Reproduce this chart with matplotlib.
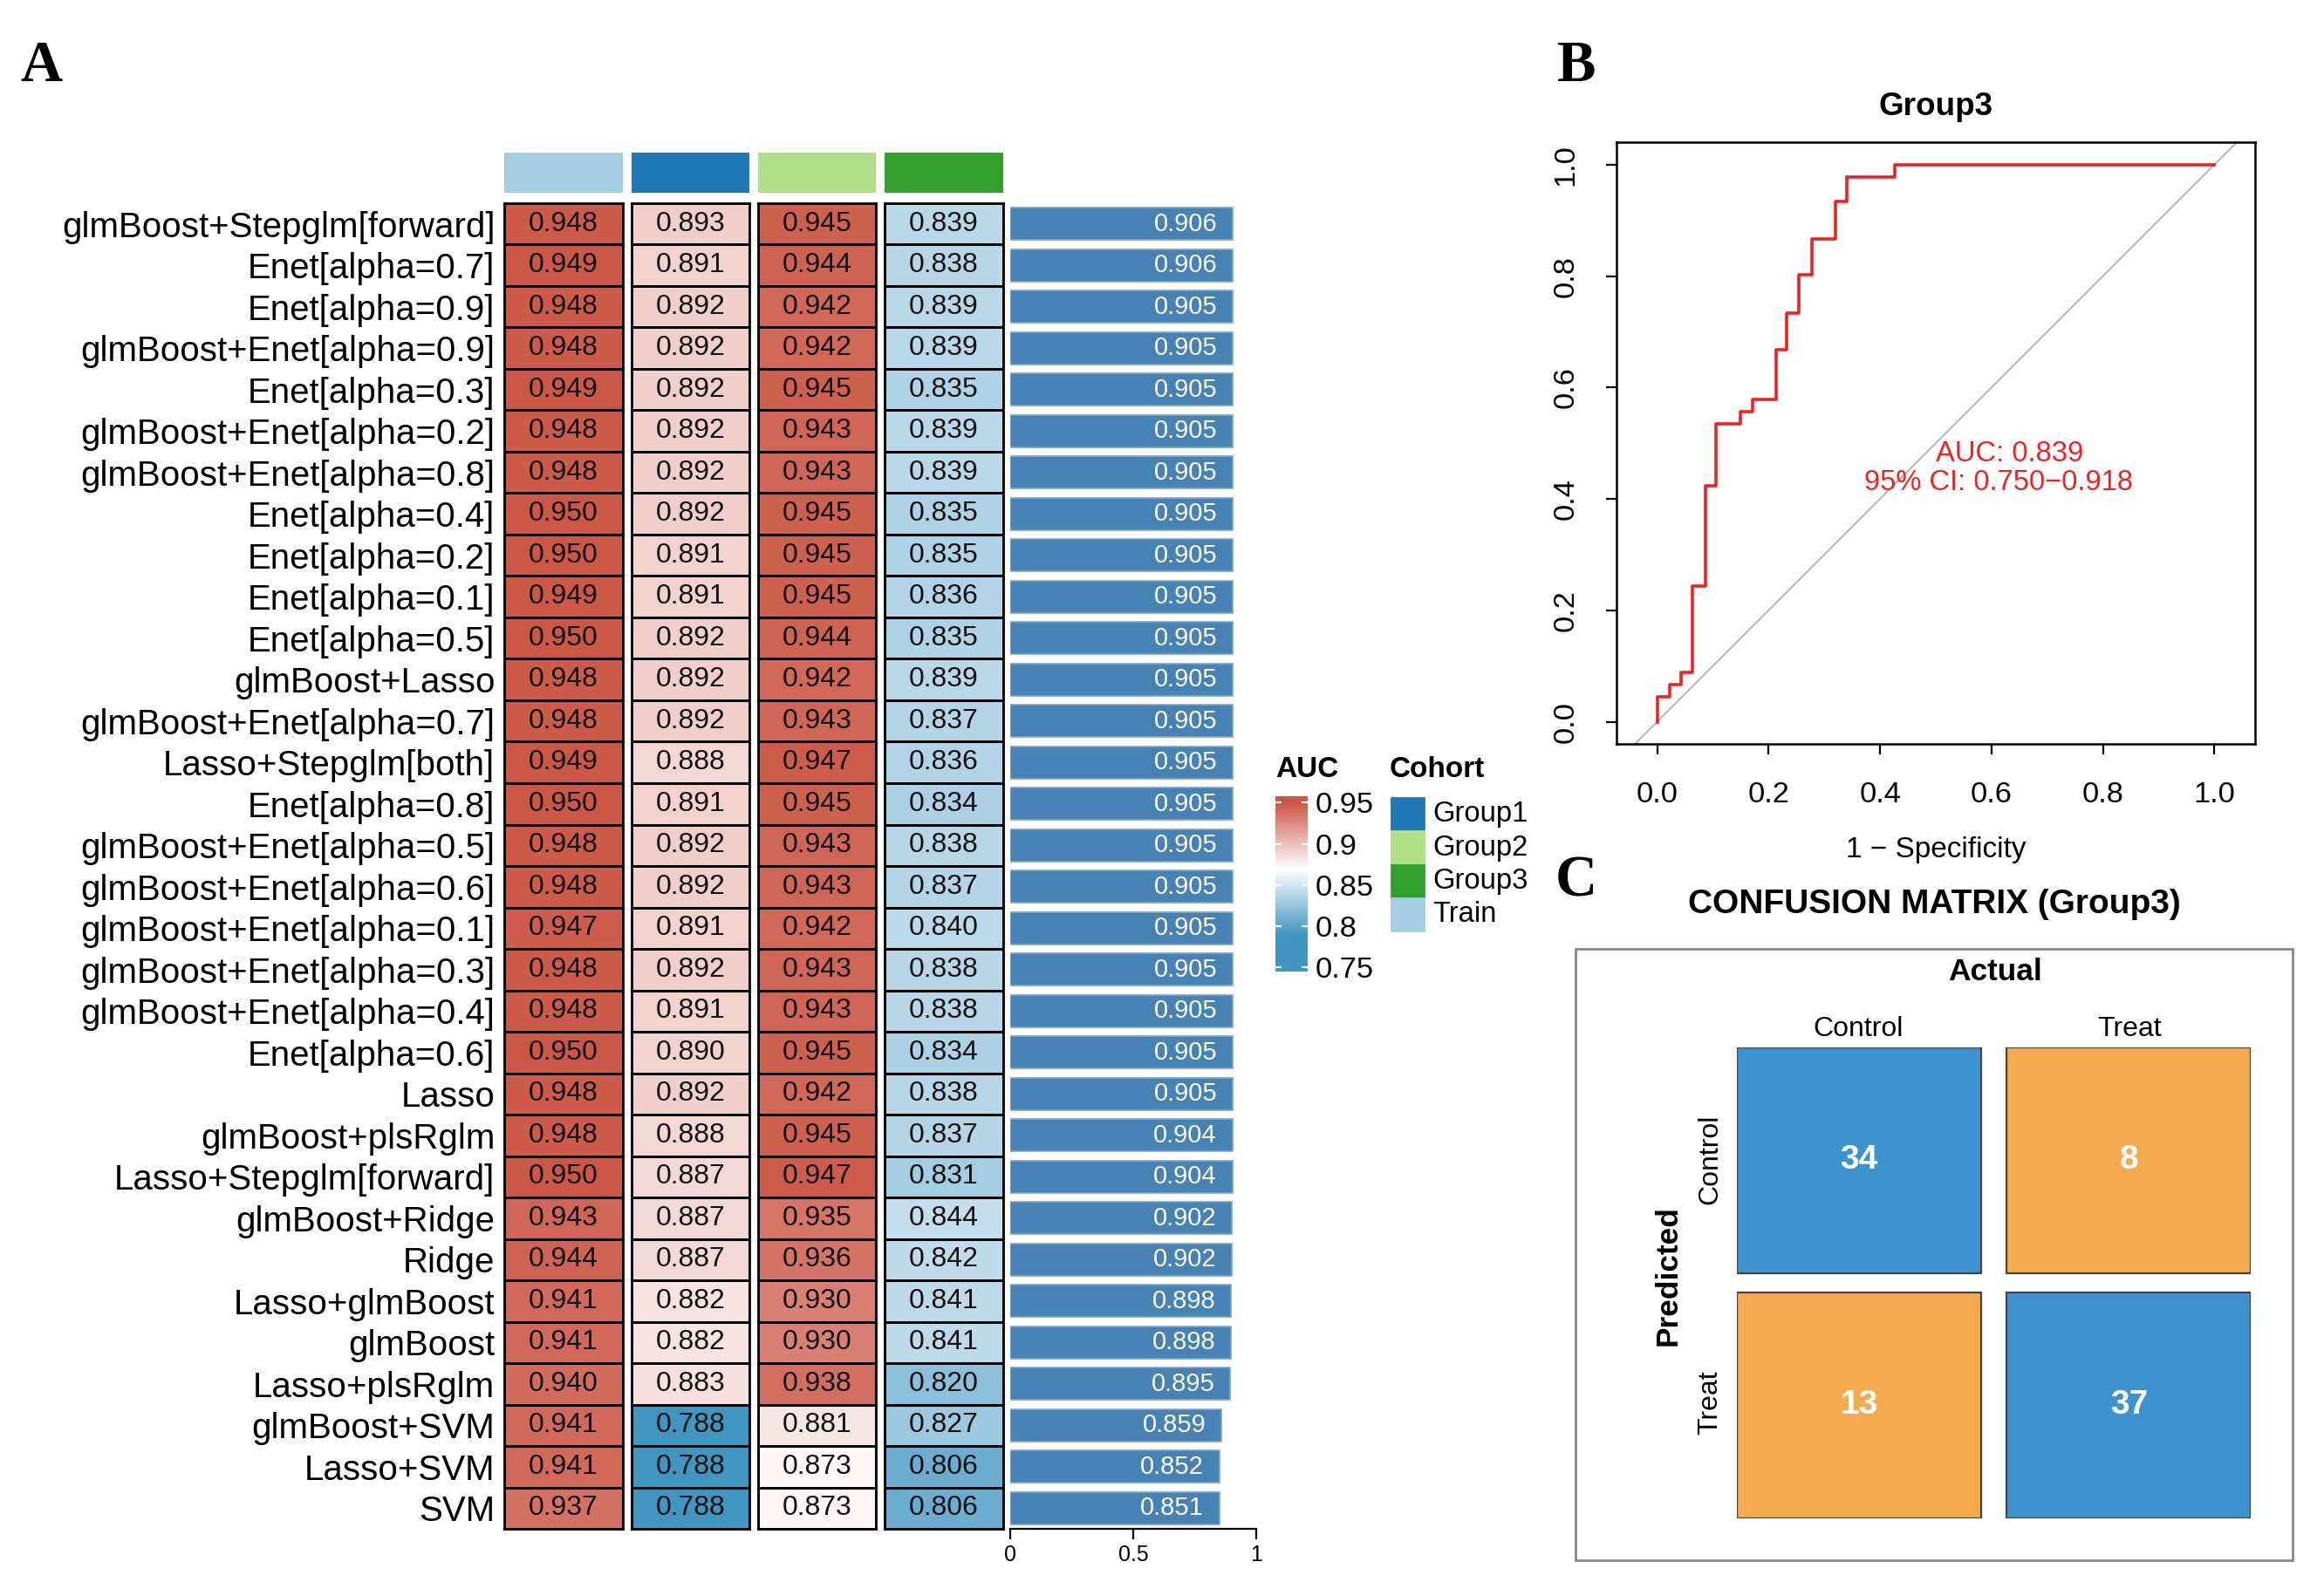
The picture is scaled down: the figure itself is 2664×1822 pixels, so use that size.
import numpy as np
import matplotlib
matplotlib.use("Agg")
import matplotlib.pyplot as plt
from matplotlib.colors import LinearSegmentedColormap, Normalize
from matplotlib.patches import Rectangle

plt.rcParams['font.family'] = ['Liberation Sans', 'DejaVu Sans']

# ---- data (panel A) ----
models = ["glmBoost+Stepglm[forward]", "Enet[alpha=0.7]", "Enet[alpha=0.9]",
          "glmBoost+Enet[alpha=0.9]", "Enet[alpha=0.3]", "glmBoost+Enet[alpha=0.2]",
          "glmBoost+Enet[alpha=0.8]", "Enet[alpha=0.4]", "Enet[alpha=0.2]",
          "Enet[alpha=0.1]", "Enet[alpha=0.5]", "glmBoost+Lasso",
          "glmBoost+Enet[alpha=0.7]", "Lasso+Stepglm[both]", "Enet[alpha=0.8]",
          "glmBoost+Enet[alpha=0.5]", "glmBoost+Enet[alpha=0.6]", "glmBoost+Enet[alpha=0.1]",
          "glmBoost+Enet[alpha=0.3]", "glmBoost+Enet[alpha=0.4]", "Enet[alpha=0.6]",
          "Lasso", "glmBoost+plsRglm", "Lasso+Stepglm[forward]", "glmBoost+Ridge",
          "Ridge", "Lasso+glmBoost", "glmBoost", "Lasso+plsRglm", "glmBoost+SVM",
          "Lasso+SVM", "SVM"]
train_auc = [0.948, 0.949, 0.948, 0.948, 0.949, 0.948, 0.948, 0.950, 0.950, 0.949, 0.950,
             0.948, 0.948, 0.949, 0.950, 0.948, 0.948, 0.947, 0.948, 0.948, 0.950, 0.948,
             0.948, 0.950, 0.943, 0.944, 0.941, 0.941, 0.940, 0.941, 0.941, 0.937]
group1_auc = [0.893, 0.891, 0.892, 0.892, 0.892, 0.892, 0.892, 0.892, 0.891, 0.891, 0.892,
              0.892, 0.892, 0.888, 0.891, 0.892, 0.892, 0.891, 0.892, 0.891, 0.890, 0.892,
              0.888, 0.887, 0.887, 0.887, 0.882, 0.882, 0.883, 0.788, 0.788, 0.788]
group2_auc = [0.945, 0.944, 0.942, 0.942, 0.945, 0.943, 0.943, 0.945, 0.945, 0.945, 0.944,
              0.942, 0.943, 0.947, 0.945, 0.943, 0.943, 0.942, 0.943, 0.943, 0.945, 0.942,
              0.945, 0.947, 0.935, 0.936, 0.930, 0.930, 0.938, 0.881, 0.873, 0.873]
group3_auc = [0.839, 0.838, 0.839, 0.839, 0.835, 0.839, 0.839, 0.835, 0.835, 0.836, 0.835,
              0.839, 0.837, 0.836, 0.834, 0.838, 0.837, 0.840, 0.838, 0.838, 0.834, 0.838,
              0.837, 0.831, 0.844, 0.842, 0.841, 0.841, 0.820, 0.827, 0.806, 0.806]
mean_auc = [0.906, 0.906, 0.905, 0.905, 0.905, 0.905, 0.905, 0.905, 0.905, 0.905, 0.905,
            0.905, 0.905, 0.905, 0.905, 0.905, 0.905, 0.905, 0.905, 0.905, 0.905, 0.905,
            0.904, 0.904, 0.902, 0.902, 0.898, 0.898, 0.895, 0.859, 0.852, 0.851]
cohorts = ["Train", "Group1", "Group2", "Group3"]
cohort_cols = {"Train": "#A6CEE3", "Group1": "#1F78B4", "Group2": "#B2DF8A", "Group3": "#33A02C"}
columns = [train_auc, group1_auc, group2_auc, group3_auc]

# ---- data (panel B: ROC Group3) ----
roc_fpr = [0, 0, 0.022, 0.043, 0.064, 0.086, 0.106, 0.150, 0.172, 0.213, 0.233, 0.255,
           0.277, 0.320, 0.340, 0.426, 1.0]
roc_tpr = [0, 0.044, 0.066, 0.089, 0.244, 0.423, 0.534, 0.557, 0.579, 0.668, 0.734, 0.802,
           0.867, 0.934, 0.978, 1.0, 1.0]
auc_txt = "AUC: 0.839"
ci_txt = "95% CI: 0.750\u22120.918"

# ---- data (panel C: confusion matrix) ----
cm_labels = ["Control", "Treat"]
cm_counts = [[34, 8], [13, 37]]

W, H = 2664, 1822
S = 0.9955  # layout measured on a slightly enlarged view
fig = plt.figure(figsize=(W / 200, H / 200), dpi=200)


def frac(x0, y0, x1, y1):
    return [S * x0 / W, 1 - S * y1 / H, S * (x1 - x0) / W, S * (y1 - y0) / H]


def pt(x, y):
    return S * x / W, 1 - S * y / H


serif = ['Liberation Serif', 'DejaVu Serif']

# ================= panel A =================
vals_all = np.array(columns)
cmap = LinearSegmentedColormap.from_list("auc", ["#4195C1", "#FFFFFF", "#CB5746"])
norm = Normalize(vmin=vals_all.min(), vmax=vals_all.max(), clip=True)

n = len(models)
row_top, row_bot = 234, 1761
col_w, col_gap, col_left0 = 136, 10, 581

for j, vals in enumerate(columns):
    x0 = col_left0 + j * (col_w + col_gap)
    ax = fig.add_axes(frac(x0, row_top, x0 + col_w, row_bot))
    ax.pcolormesh(np.array(vals).reshape(-1, 1), cmap=cmap, norm=norm,
                  edgecolors="black", linewidth=1.0)
    ax.set_xlim(0, 1)
    ax.set_ylim(n, 0)
    for i, v in enumerate(vals):
        ax.text(0.5, i + 0.5, "%.3f" % v, ha="center", va="center", fontsize=11.5, color="#111111")
    ax.set_xticks([])
    if j == 0:
        ax.set_yticks(np.arange(n) + 0.5)
        ax.set_yticklabels(models, fontsize=14.5)
        ax.tick_params(axis="y", length=0, pad=4)
    else:
        ax.set_yticks([])
    for s in ax.spines.values():
        s.set_linewidth(1.0)
    # cohort annotation
    axa = fig.add_axes(frac(x0, 176, x0 + col_w, 222))
    axa.add_patch(Rectangle((0, 0), 1, 1, color=cohort_cols[cohorts[j]]))
    axa.set_xlim(0, 1)
    axa.set_ylim(0, 1)
    axa.axis("off")

# mean AUC bars
axb = fig.add_axes(frac(1163, row_top, 1163 + 283.5, row_bot))
axb.barh(np.arange(n) + 0.5, mean_auc, height=0.78, color="#4682B4", edgecolor="#7FA6CC", linewidth=0.6)
for i, v in enumerate(mean_auc):
    axb.annotate("%.3f" % v, (v, i + 0.5), xytext=(-6.5, 0), textcoords="offset points",
                 ha="right", va="center", fontsize=10.5, color="white")
axb.set_xlim(0, 1)
axb.set_ylim(n, 0)
axb.set_yticks([])
axb.set_xticks([0, 0.5, 1])
axb.set_xticklabels(["0", "0.5", "1"], fontsize=9)
axb.tick_params(axis="x", length=4.3, width=0.8, pad=2)
for s in ["top", "right", "left"]:
    axb.spines[s].set_visible(False)
axb.spines["bottom"].set_linewidth(0.8)

# AUC colour legend
axc = fig.add_axes(frac(1469, 917, 1506, 1119))
grad = np.linspace(0.745, 0.958, 256).reshape(-1, 1)
axc.imshow(grad, cmap=cmap, norm=norm, aspect="auto", origin="lower",
           extent=[0, 1, 0.745, 0.958])
axc.set_xlim(0, 1)
axc.set_ylim(0.745, 0.958)
axc.set_xticks([])
ticks = [0.75, 0.8, 0.85, 0.9, 0.95]
axc.set_yticks(ticks)
axc.set_yticklabels(["%g" % t for t in ticks], fontsize=12.4)
axc.yaxis.tick_right()
axc.tick_params(axis="y", direction="in", color="white", length=2.5, width=0.8,
                left=True, right=True, pad=3)
for s in axc.spines.values():
    s.set_visible(False)
fig.text(*pt(1469, 886), "AUC", fontsize=12, weight="bold", ha="left", va="center")

# cohort legend
fig.text(*pt(1600, 886), "Cohort", fontsize=12, weight="bold", ha="left", va="center")
for k, name in enumerate(sorted(cohorts)):
    y0 = 919 + k * 38.5
    fig.add_artist(Rectangle(pt(1602, y0 + 37), S * 37 / W, S * 37 / H, transform=fig.transFigure,
                             color=cohort_cols[name]))
    fig.text(*pt(1650, y0 + 19), name, fontsize=11.8, ha="left", va="center")

fig.text(*pt(48, 77), "A", fontsize=24, weight="bold", family=serif, ha="center", va="center")

# ================= panel B =================
axr = fig.add_axes(frac(1861, 164, 2597, 857))
axr.plot(roc_fpr, roc_tpr, drawstyle="steps-post", color="#EE2222", lw=1.3, zorder=3)
axr.axline((0, 0), (1, 1), color="#AAAAAA", lw=0.6)
axr.set_xlim(-0.0735, 1.0735)
axr.set_ylim(-0.04, 1.04)
tk = np.arange(0, 1.01, 0.2)
axr.set_xticks(tk)
axr.set_xticklabels(["%.1f" % t for t in tk], fontsize=12.4)
axr.set_yticks(tk)
axr.set_yticklabels(["%.1f" % t for t in tk], fontsize=12.4, rotation=90, va="center")
axr.tick_params(length=4.3, width=0.8, pad=11)
for s in axr.spines.values():
    s.set_linewidth(0.9)
axr.text(0.632, 0.481, auc_txt, color="#EE2222", fontsize=11.8, ha="center", va="center")
axr.text(0.612, 0.429, ci_txt, color="#EE2222", fontsize=11.8, ha="center", va="center")
fig.text(*pt(2229, 123), "Group3", fontsize=13.3, weight="bold", ha="center", va="center")
fig.text(*pt(2229, 979), "1 \u2212 Specificity", fontsize=12, ha="center", va="center")
fig.text(*pt(1815, 77), "B", fontsize=24, weight="bold", family=serif, ha="center", va="center")

# ================= panel C =================
fig.text(*pt(1815, 1016), "C", fontsize=24, weight="bold", family=serif, ha="center", va="center")
fig.text(*pt(2227, 1042), "CONFUSION MATRIX (Group3)", fontsize=14, weight="bold",
         ha="center", va="center")
fig.add_artist(Rectangle(pt(1814, 1797), S * (2640 - 1814) / W, S * (1797 - 1093) / H,
                         transform=fig.transFigure, fill=False, edgecolor="#888888", lw=1.0))
fig.text(*pt(2297, 1120), "Actual", fontsize=12.7, weight="bold", ha="center", va="center")
fig.text(*pt(1921, 1469), "Predicted", fontsize=12.7, weight="bold", rotation=90,
         ha="center", va="center")

axm = fig.add_axes(frac(2000, 1206, 2592, 1749))
for i in range(2):
    for j in range(2):
        c = "#3D93CD" if i == j else "#F4AB4F"
        axm.add_patch(Rectangle((j * 1.05, i * 1.04), 0.95, 0.96, facecolor=c,
                                edgecolor="#444444", lw=0.8))
        axm.text(j * 1.05 + 0.475, i * 1.04 + 0.48, str(cm_counts[i][j]), color="white",
                 fontsize=14, weight="bold", ha="center", va="center")
axm.set_xlim(0, 2)
axm.set_ylim(2, 0)
axm.axis("off")
for j, lab in enumerate(cm_labels):
    fig.text(*pt([2140, 2452][j], 1185), lab, fontsize=11.5, ha="center", va="center")
    fig.text(*pt(1969, [1335, 1615][j]), lab, fontsize=11.5, rotation=90, ha="center", va="center")

fig.savefig("out.png", dpi=200, facecolor="white")
